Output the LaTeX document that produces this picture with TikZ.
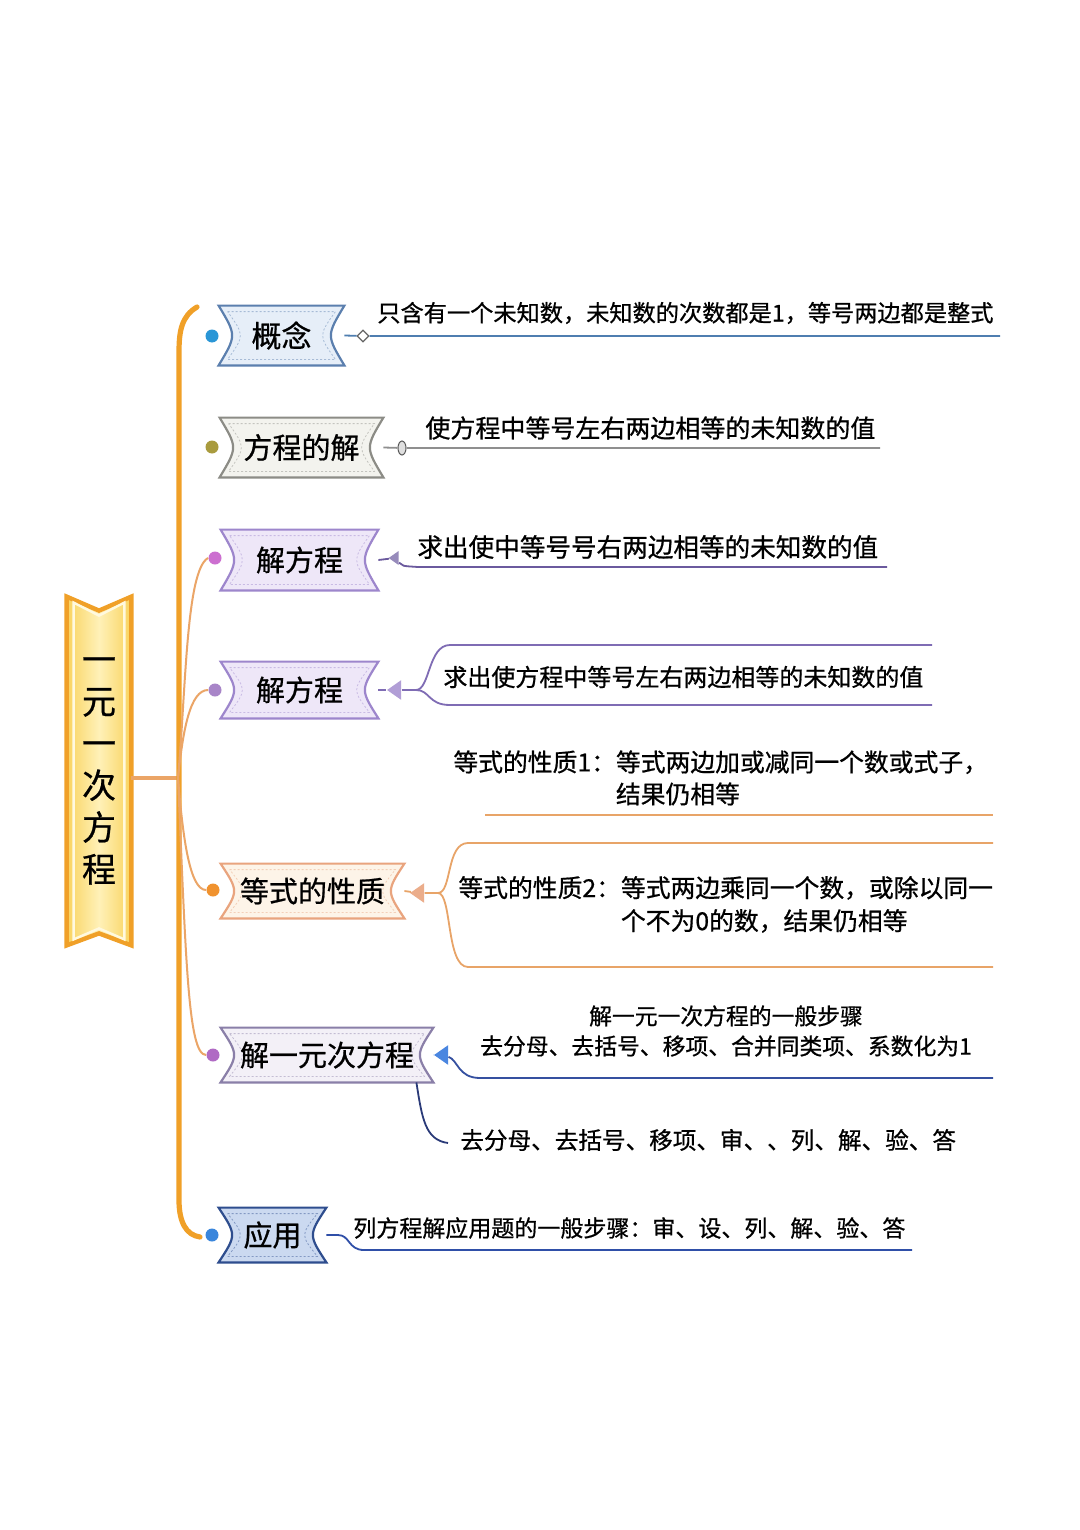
\documentclass[tikz,border=0pt]{standalone}
\usepackage{fontspec}
\setmainfont{Noto Sans CJK SC}[FakeBold=0.7]
\usetikzlibrary{calc,backgrounds,shapes.geometric}

\definecolor{cOr}{HTML}{F0A028}
\definecolor{cY1}{HTML}{F9D35E}
\definecolor{cY2}{HTML}{FFF1B8}
\definecolor{cBranch}{HTML}{EBA567}
% ribbon borders / fills
\definecolor{bA}{HTML}{5B7FAE}\definecolor{fA}{HTML}{E6EEF8}
\definecolor{bB}{HTML}{8C8C86}\definecolor{fB}{HTML}{F3F3EE}
\definecolor{bC}{HTML}{9D86CC}\definecolor{fC}{HTML}{EEE7F8}
\definecolor{bD}{HTML}{E9A47E}\definecolor{fD}{HTML}{FDF4E8}
\definecolor{bE}{HTML}{8A7FA8}\definecolor{fE}{HTML}{F3F0F7}
\definecolor{bF}{HTML}{2E4D8E}\definecolor{fF}{HTML}{CBD9F0}
% dots
\definecolor{dA}{HTML}{2A96D6}\definecolor{dB}{HTML}{A99B3E}
\definecolor{dC}{HTML}{CC6FD0}\definecolor{dD}{HTML}{A885C8}
\definecolor{dE}{HTML}{F0922E}\definecolor{dF}{HTML}{B06AC4}
\definecolor{dG}{HTML}{3A86DC}
% lines
\definecolor{lA}{HTML}{4F7EB0}\definecolor{lB}{HTML}{8F8F8F}
\definecolor{lC}{HTML}{6B5A9E}\definecolor{lD}{HTML}{7F6CB4}
\definecolor{lE}{HTML}{E8A468}\definecolor{lF}{HTML}{3550A0}
\definecolor{aF}{HTML}{4A86E0}\definecolor{lG}{HTML}{2A3A78}
\definecolor{lH}{HTML}{2F4FA8}

\newcommand\ribshape[3]{%
  \path[draw=#2,fill=#3,line width=1.1pt]
    (#1.north west) -- (#1.north east)
    .. controls ($(#1.east)+(-18,0)$) .. (#1.south east)
    -- (#1.south west)
    .. controls ($(#1.west)+(18,0)$) .. (#1.north west) -- cycle;
  \path[draw=#2,line width=0.4pt,dash pattern=on 1pt off 1pt,opacity=0.45]
    ($(#1.north west)+(9,6)$) -- ($(#1.north east)+(-9,6)$)
    .. controls ($(#1.east)+(-26,0)$) .. ($(#1.south east)+(-9,-6)$)
    -- ($(#1.south west)+(9,-6)$)
    .. controls ($(#1.west)+(26,0)$) .. ($(#1.north west)+(9,6)$) -- cycle;
}

\begin{document}
\begin{tikzpicture}[x=0.5pt,y=-0.5pt,
  rib/.style={inner sep=0pt,font=\fontsize{14.5}{17}\selectfont},
  dot/.style={circle,inner sep=0pt,minimum size=6.5pt},
  txt/.style={inner sep=0pt,anchor=west},
  trunk/.style={draw=cOr,line width=2.6pt,line cap=round},
  branch/.style={draw=cBranch,line width=1pt},
  tri/.style={isosceles triangle,shape border rotate=180,inner sep=0pt,
     minimum width=7pt,minimum height=6pt,isosceles triangle apex angle=70}]

\useasboundingbox (0,0) rectangle (1080,1530);

% ---------- root banner ----------
\node[minimum width=32pt,minimum height=174pt,inner sep=0pt,align=center,
      font=\fontsize{17}{21}\selectfont] (root) at (99,771) {一\\元\\一\\次\\方\\程};

% ---------- ribbon nodes ----------
\node[rib,minimum width=62.5pt,minimum height=29.5pt,font=\fontsize{15}{18}\selectfont] (gn) at (281.5,335.5) {概念};
\node[rib,minimum width=81.5pt,minimum height=29.5pt] (fj) at (301.5,447.5) {方程的解};
\node[rib,minimum width=78.5pt,minimum height=30pt] (jf1) at (299.5,560) {解方程};
\node[rib,minimum width=78.5pt,minimum height=28pt] (jf2) at (299.5,690) {解方程};
\node[rib,minimum width=91.5pt,minimum height=27pt] (dx) at (312.5,891) {等式的性质};
\node[rib,minimum width=106pt,minimum height=27pt] (jy) at (327,1055) {解一元次方程};
\node[rib,minimum width=53.5pt,minimum height=27pt] (yy) at (272.5,1235) {应用};

% ---------- dots ----------
\node[dot,fill=dA] (d1) at (212,336) {};
\node[dot,fill=dB] (d2) at (212,447) {};
\node[dot,fill=dC] (d3) at (215,558) {};
\node[dot,fill=dD] (d4) at (215,690) {};
\node[dot,fill=dE] (d5) at (213,890) {};
\node[dot,fill=dF] (d6) at (213,1055) {};
\node[dot,fill=dG] (d7) at (212,1235) {};

% ---------- texts ----------
\node[txt,font=\fontsize{11.6}{14}\selectfont] (t1) at (377,313) {只含有一个未知数，未知数的次数都是1，等号两边都是整式};
\node[txt,font=\fontsize{12.5}{15}\selectfont] (t2) at (425,428) {使方程中等号左右两边相等的未知数的值};
\node[txt,font=\fontsize{12.8}{15}\selectfont] (t3) at (417,547) {求出使中等号号右两边相等的未知数的值};
\node[txt,font=\fontsize{12}{15}\selectfont] (t4) at (443,677) {求出使方程中等号左右两边相等的未知数的值};
\node[txt,font=\fontsize{12.4}{16}\selectfont] (t5a) at (453,781)
  {\begin{tabular}{@{}l@{}l@{}}等式的性质1：&等式两边加或减同一个数或式子，\\&结果仍相等\end{tabular}};
\node[txt,font=\fontsize{12.4}{16.5}\selectfont] (t5b) at (458,907)
  {\begin{tabular}{@{}l@{}l@{}}等式的性质2：&等式两边乘同一个数，或除以同一\\&个不为0的数，结果仍相等\end{tabular}};
\node[inner sep=0pt,align=center,font=\fontsize{11.4}{15}\selectfont] (t6) at (726,1031)
  {解一元一次方程的一般步骤\\去分母、去括号、移项、合并同类项、系数化为1};
\node[txt,font=\fontsize{11.8}{14}\selectfont] (t7) at (460,1140) {去分母、去括号、移项、审、、列、解、验、答};
\node[txt,font=\fontsize{11.5}{14}\selectfont] (t8) at (353,1228) {列方程解应用题的一般步骤：审、设、列、解、验、答};

% ---------- markers ----------
\node[diamond,draw=gray!80!black,fill=white,inner sep=0pt,minimum size=6pt,line width=0.6pt] (m1) at (363,336) {};
\node[ellipse,draw=gray!70!black,fill=gray!25,inner sep=0pt,minimum width=4pt,minimum height=7pt,line width=0.5pt] (m2) at (402,448) {};
\node[tri,fill=lC!70,minimum width=7pt,minimum height=5pt] (m3) at (395,558) {};
\node[tri,fill=bC!80,minimum width=9pt,minimum height=7pt] (m4) at (396,690) {};
\node[tri,fill=bD!90,minimum width=9pt,minimum height=7pt] (m5) at (419,893) {};
\node[tri,fill=aF,minimum width=9pt,minimum height=7pt] (m6) at (443,1055) {};

% ---------- coordinates ----------
\coordinate (j) at (178,778);
\coordinate (ttop) at (197,307);
\coordinate (tbot) at (200,1237);
\coordinate (e1) at (1000,336);
\coordinate (e2) at (880,448);
\coordinate (e3) at (887,567);
\coordinate (b4) at (416,690);
\coordinate (e4a) at (932,645);
\coordinate (e4b) at (932,705);
\coordinate (b5) at (438,893);
\coordinate (e5a) at (993,843);
\coordinate (e5b) at (993,967);
\coordinate (u5a) at (485,815);
\coordinate (u5b) at (993,815);
\coordinate (e6) at (993,1078);
\coordinate (e8) at (912,1250);

% ---------- background shapes ----------
\begin{scope}[on background layer]
  \fill[white] (0,0) rectangle (1080,1530);
  \path[draw=cOr,line width=2.2pt,left color=cY1,right color=cY1,middle color=cY2]
    (root.north west) -- ($(root.north)+(0,14)$) -- (root.north east)
    -- (root.south east) -- ($(root.south)+(0,-12)$) -- (root.south west) -- cycle;
  \draw[white!55!cY2,line width=1.2pt]
    ($(root.north west)+(7,6)$) -- ($(root.north)+(0,19)$) -- ($(root.north east)+(-7,6)$)
    -- ($(root.south east)+(-7,-6)$) -- ($(root.south)+(0,-17)$) -- ($(root.south west)+(7,-6)$) -- cycle;
  \ribshape{gn}{bA}{fA}
  \ribshape{fj}{bB}{fB}
  \ribshape{jf1}{bC}{fC}
  \ribshape{jf2}{bC}{fC}
  \ribshape{dx}{bD}{fD}
  \ribshape{jy}{bE}{fE}
  \ribshape{yy}{bF}{fF}
\end{scope}

% ---------- left connectors ----------
\draw[draw=cBranch,line width=2.4pt] (root.east |- j) -- (j);
\draw[trunk] (ttop) .. controls (182,316) and (179,330) .. (179,352) -- (179,1200)
   .. controls (179,1222) and (186,1235) .. (tbot);
\draw[branch] (j) .. controls (186,690) and (186,570) .. (d3.west);
\draw[branch] (j) .. controls (183,730) and (190,690) .. (d4.west);
\draw[branch] (j) .. controls (183,840) and (190,890) .. (d5.west);
\draw[branch] (j) .. controls (186,960) and (188,1055) .. (d6.west);

% ---------- right connectors ----------
\draw[lA,line width=0.9pt] (gn.east) -- (m1) -- (e1);
\draw[lB,line width=0.9pt] (fj.east) -- (m2) -- (e2);
\draw[lC,line width=0.9pt] (jf1.east) -- (m3);
\draw[lC,line width=0.9pt] (m3) .. controls (402,566) .. (418,567) -- (e3);
\draw[lD,line width=0.9pt] (jf2.east) -- (m4) -- (b4);
\draw[lD,line width=0.9pt] (b4) .. controls (430,690) and (428,645) .. (450,645) -- (e4a);
\draw[lD,line width=0.9pt] (b4) .. controls (430,690) and (428,705) .. (450,705) -- (e4b);
\draw[lE,line width=0.9pt] (dx.east) -- (m5) -- (b5);
\draw[lE,line width=0.9pt] (b5) .. controls (452,893) and (446,843) .. (468,843) -- (e5a);
\draw[lE,line width=0.9pt] (b5) .. controls (452,893) and (446,967) .. (468,967) -- (e5b);
\draw[lE,line width=0.9pt] (u5a) -- (u5b);
\draw[aF,line width=0.9pt] (jy.east) -- (m6);
\draw[lF,line width=0.9pt] (m6) .. controls (458,1060) and (458,1078) .. (480,1078) -- (e6);
\draw[lG,line width=0.9pt] ($(jy.south east)+(-17,0)$) .. controls (422,1118) and (425,1140) .. ($(t7.west)+(-12,3)$);
\draw[lH,line width=0.9pt] (yy.east) -- (338,1235) .. controls (350,1235) and (348,1250) .. (364,1250) -- (e8);

\end{tikzpicture}
\end{document}
